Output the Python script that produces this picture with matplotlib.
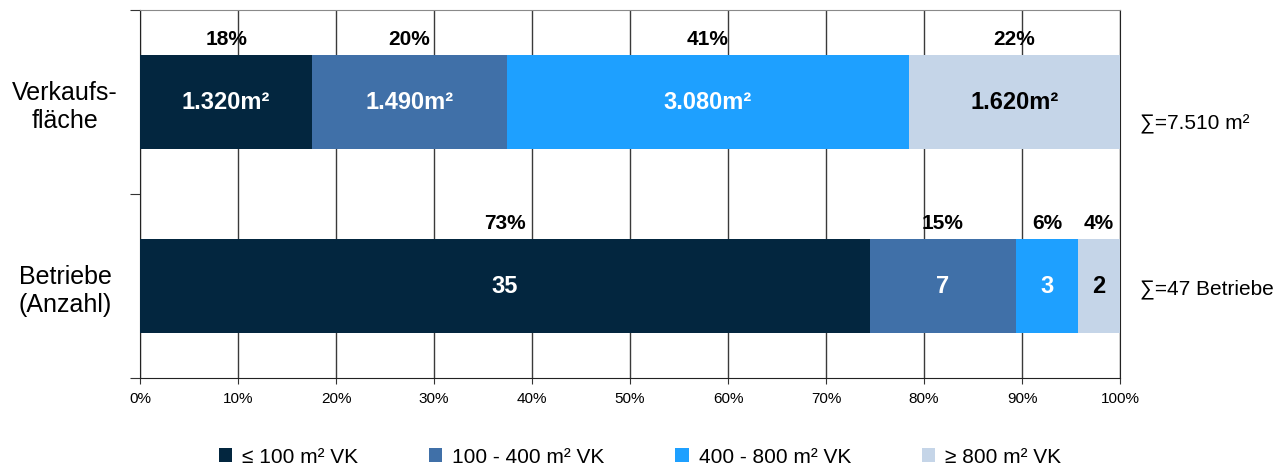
import matplotlib
import matplotlib.pyplot as plt
from matplotlib.patches import Patch

matplotlib.use("Agg")

plt.rcParams["font.family"] = ["Liberation Sans", "DejaVu Sans"]

# ---------------------------------------------------------------------------
# Data
# ---------------------------------------------------------------------------
categories = ["Verkaufs-\nfläche", "Betriebe\n(Anzahl)"]
classes = ["≤ 100 m² VK", "100 - 400 m² VK", "400 - 800 m² VK", "≥ 800 m² VK"]
colors = ["#03263F", "#4070A8", "#1EA0FF", "#C5D5E8"]
text_colors = ["white", "white", "white", "black"]

vk_values = [1320, 1490, 3080, 1620]
vk_labels = ["1.320m²", "1.490m²", "3.080m²", "1.620m²"]
vk_pct = ["18%", "20%", "41%", "22%"]
vk_sum = "∑=7.510 m²"

betr_values = [35, 7, 3, 2]
betr_labels = ["35", "7", "3", "2"]
betr_pct = ["73%", "15%", "6%", "4%"]
betr_sum = "∑=47 Betriebe"

rows = [
    (vk_values, vk_labels, vk_pct, vk_sum),
    (betr_values, betr_labels, betr_pct, betr_sum),
]

# ---------------------------------------------------------------------------
# Plot
# ---------------------------------------------------------------------------
fig = plt.figure(figsize=(12.76, 4.65), dpi=100)
ax = fig.add_axes([140 / 1276, 1 - 378 / 465, 980 / 1276, 368 / 465])

bar_h = 0.51
for i, (values, labels, pct, total_label) in enumerate(rows):
    y = i + 0.5
    total = sum(values)
    left = 0.0
    for j, v in enumerate(values):
        w = v / total * 100.0
        ax.barh(y, w, left=left, height=bar_h, color=colors[j], zorder=3)
        cx = left + w / 2
        ax.text(cx, y, labels[j], ha="center", va="center", fontsize=17,
                fontweight="bold", color=text_colors[j], zorder=4)
        ax.text(cx, y - bar_h / 2 - 0.085, pct[j], ha="center", va="center",
                fontsize=15, fontweight="bold", color="black", zorder=4)
        left += w
    # sum label sits to the right of the bar
    sum_y = y + (0.12 if i == 0 else 0.02)
    ax.text(1.02, sum_y, total_label, transform=ax.get_yaxis_transform(),
            ha="left", va="center", fontsize=15)

ax.set_xlim(0, 100)
ax.set_ylim(2, 0)
ax.set_xticks(range(0, 101, 10))
ax.set_xticklabels([f"{t}%" for t in range(0, 101, 10)], fontsize=11)
ax.set_yticks([0, 1, 2])
ax.set_yticklabels([])
ax.set_yticks([0.5, 1.5], minor=True)
ax.set_yticklabels(categories, minor=True, fontsize=18, ha="center",
                   linespacing=1.25)
ax.tick_params(axis="y", which="minor", length=0, pad=54)
ax.tick_params(axis="y", which="major", length=7, color="#333333")
ax.tick_params(axis="x", length=4, pad=6, color="#333333")

ax.grid(axis="x", color="#3a3a3a", linewidth=1.0, zorder=0)
ax.set_axisbelow(True)
for side in ["left", "bottom", "right"]:
    ax.spines[side].set_color("#222222")
ax.spines["top"].set_color("#8a8a8a")

handles = [Patch(facecolor=c, edgecolor="none") for c in colors]
fig.legend(handles, classes, loc="center", bbox_to_anchor=(640 / 1276, 1 - 457 / 465),
           ncol=4, frameon=False, fontsize=15, handlelength=0.63,
           handleheight=0.63, handletextpad=0.48, columnspacing=3.4)

fig.savefig("out.png", dpi=100)
plt.close(fig)
